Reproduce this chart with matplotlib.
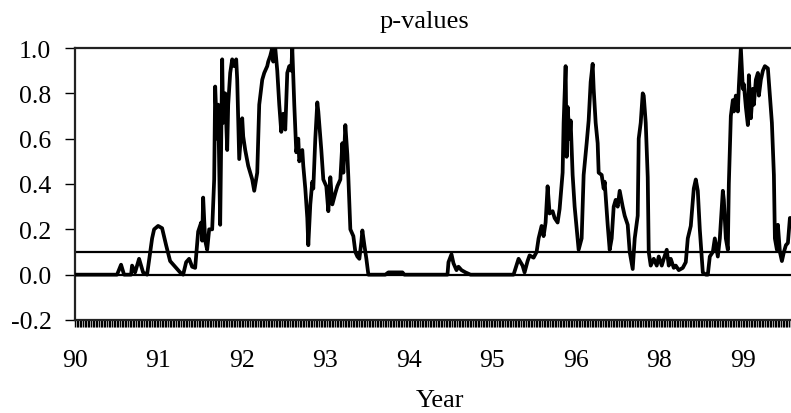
import matplotlib
matplotlib.use("Agg")
import matplotlib.pyplot as plt
import numpy as np

# x position in "year slots" (0 = '90', 1 = '91', ... ) and p-values
t = [0, 0.504, 0.552, 0.588, 0.672, 0.684, 0.72, 0.768, 0.816, 0.864, 0.924, 0.948, 0.996,
     1.044, 1.092, 1.14, 1.2, 1.26, 1.296, 1.332, 1.368, 1.404, 1.44, 1.476, 1.512, 1.524,
     1.536, 1.56, 1.584, 1.608, 1.644, 1.668, 1.68, 1.704, 1.716, 1.74, 1.764, 1.776, 1.8,
     1.824, 1.836, 1.86, 1.884, 1.908, 1.932, 1.944, 1.968, 2.004, 2.016, 2.04, 2.076, 2.124,
     2.148, 2.184, 2.208, 2.244, 2.268, 2.304, 2.316, 2.34, 2.364, 2.376, 2.4, 2.424, 2.448,
     2.472, 2.496, 2.52, 2.544, 2.568, 2.592, 2.604, 2.628, 2.652, 2.676, 2.688, 2.724, 2.736,
     2.76, 2.784, 2.796, 2.82, 2.844, 2.856, 2.88, 2.904, 2.916, 2.952, 2.976, 3.012, 3.036,
     3.06, 3.084, 3.12, 3.144, 3.18, 3.204, 3.216, 3.24, 3.264, 3.276, 3.3, 3.336, 3.36,
     3.384, 3.408, 3.432, 3.444, 3.468, 3.492, 3.516, 3.72, 3.756, 3.924, 3.948, 4.464,
     4.476, 4.512, 4.536, 4.572, 4.596, 4.632, 4.68, 4.74, 5.256, 5.316, 5.364, 5.388, 5.424,
     5.448, 5.496, 5.532, 5.556, 5.592, 5.616, 5.64, 5.664, 5.688, 5.724, 5.748, 5.784, 5.808,
     5.844, 5.856, 5.88, 5.892, 5.904, 5.928, 5.94, 5.964, 5.988, 6.024, 6.036, 6.072, 6.096,
     6.132, 6.156, 6.18, 6.204, 6.216, 6.24, 6.264, 6.276, 6.312, 6.336, 6.348, 6.384, 6.408,
     6.432, 6.456, 6.48, 6.504, 6.528, 6.564, 6.588, 6.624, 6.648, 6.684, 6.708, 6.744, 6.756,
     6.78, 6.804, 6.816, 6.84, 6.864, 6.876, 6.9, 6.936, 6.972, 6.996, 7.032, 7.056, 7.092,
     7.116, 7.14, 7.176, 7.2, 7.236, 7.284, 7.32, 7.344, 7.38, 7.416, 7.44, 7.464, 7.488,
     7.524, 7.56, 7.584, 7.608, 7.644, 7.668, 7.704, 7.728, 7.764, 7.776, 7.8, 7.824, 7.836,
     7.86, 7.884, 7.896, 7.92, 7.944, 7.956, 7.98, 8.004, 8.016, 8.04, 8.064, 8.076, 8.1,
     8.124, 8.136, 8.16, 8.184, 8.196, 8.22, 8.244, 8.268, 8.304, 8.316, 8.352, 8.376, 8.388,
     8.412, 8.424, 8.448, 8.472, 8.496, 8.52, 8.544, 8.568, 8.592]

pvals = [0, 0, 0.044, 0, 0, 0.04, 0.01, 0.07, 0.01, 0, 0.16, 0.2, 0.215,
         0.205, 0.13, 0.06, 0.035, 0.01, 0, 0.055, 0.07, 0.035, 0.03, 0.19, 0.23, 0.15,
         0.34, 0.15, 0.11, 0.2, 0.2, 0.42, 0.83, 0.6, 0.75, 0.22, 0.95, 0.67, 0.8,
         0.55, 0.75, 0.89, 0.95, 0.92, 0.95, 0.86, 0.51, 0.69, 0.61, 0.55, 0.48, 0.42,
         0.37, 0.45, 0.75, 0.86, 0.89, 0.92, 0.94, 0.965, 1.0, 0.94, 1.0, 0.9, 0.75,
         0.63, 0.71, 0.64, 0.89, 0.92, 0.9, 1.0, 0.75, 0.54, 0.6, 0.5, 0.55, 0.48,
         0.38, 0.25, 0.13, 0.31, 0.41, 0.38, 0.6, 0.76, 0.72, 0.55, 0.42, 0.39, 0.28,
         0.43, 0.31, 0.36, 0.39, 0.42, 0.58, 0.45, 0.66, 0.53, 0.43, 0.2, 0.17, 0.1,
         0.08, 0.07, 0.145, 0.195, 0.13, 0.07, 0, 0, 0.01, 0.01, 0, 0,
         0.055, 0.09, 0.05, 0.02, 0.035, 0.02, 0.01, 0, 0, 0.07, 0.04, 0.01, 0.06,
         0.085, 0.075, 0.1, 0.16, 0.215, 0.17, 0.23, 0.39, 0.27, 0.28, 0.25, 0.23, 0.29,
         0.45, 0.67, 0.92, 0.52, 0.74, 0.6, 0.68, 0.44, 0.3, 0.16, 0.11, 0.16, 0.44,
         0.58, 0.68, 0.85, 0.93, 0.82, 0.67, 0.58, 0.45, 0.44, 0.38, 0.41, 0.22, 0.11,
         0.16, 0.3, 0.33, 0.3, 0.37, 0.3, 0.26, 0.22, 0.1, 0.025, 0.16, 0.26, 0.6,
         0.67, 0.8, 0.79, 0.67, 0.43, 0.1, 0.04, 0.07, 0.04, 0.08, 0.04, 0.07, 0.11,
         0.04, 0.07, 0.03, 0.04, 0.02, 0.03, 0.055, 0.16, 0.215, 0.38, 0.42, 0.37, 0.2,
         0.01, 0, 0, 0.08, 0.1, 0.16, 0.08, 0.16, 0.37, 0.33, 0.16, 0.11, 0.4,
         0.7, 0.77, 0.72, 0.79, 0.72, 0.83, 1.0, 0.82, 0.84, 0.74, 0.66, 0.88, 0.69,
         0.82, 0.75, 0.86, 0.89, 0.79, 0.86, 0.9, 0.92, 0.91, 0.85, 0.67, 0.44, 0.16,
         0.11, 0.22, 0.1, 0.06, 0.1, 0.13, 0.14, 0.25, 0.25]

xtick_labels = ["90", "91", "92", "93", "94", "95", "96", "98", "99"]
ytick_values = [-0.2, 0.0, 0.2, 0.4, 0.6, 0.8, 1.0]
ytick_labels = ["-0.2", "0.0", "0.2", "0.4", "0.6", "0.8", "1.0"]
ref_levels = [0.0, 0.1]

plt.rcParams['font.family'] = ['Liberation Serif', 'DejaVu Serif']

fig = plt.figure(figsize=(7.91, 4.14), dpi=100)
ax = fig.add_axes([75/791, 1 - 321/414, 1 - 75/791 + 0.002, (321 - 49)/414])

for lv in ref_levels:
    ax.axhline(lv, color='black', lw=1.6, zorder=2)
ax.plot(t, pvals, color='black', lw=2.7, zorder=3, solid_joinstyle='round')

ax.set_xlim(0, 8.6)
ax.set_ylim(-0.2, 1.0)

ax.set_xticks(range(len(xtick_labels)))
ax.set_xticklabels(xtick_labels)
ax.set_xticks(np.arange(0, 8.6, 1/52), minor=True)
ax.set_yticks(ytick_values)
ax.set_yticklabels(ytick_labels)

ax.tick_params(axis='x', which='both', direction='out', length=5, width=1.0,
               labelsize=18.5, pad=16, color='black')
ax.tick_params(axis='y', which='major', direction='out', length=7, width=1.0,
               labelsize=18.5, pad=10, color='black')

for side in ['left', 'top', 'bottom']:
    ax.spines[side].set_color('#222222')
    ax.spines[side].set_linewidth(1.6)
ax.spines['right'].set_visible(False)

fig.text(424/791, 1 - 22/414, "p-values", ha='center', va='center', fontsize=19)
fig.text(440/791, 1 - 401/414, "Year", ha='center', va='center', fontsize=19)

fig.savefig("out.png", dpi=100)
